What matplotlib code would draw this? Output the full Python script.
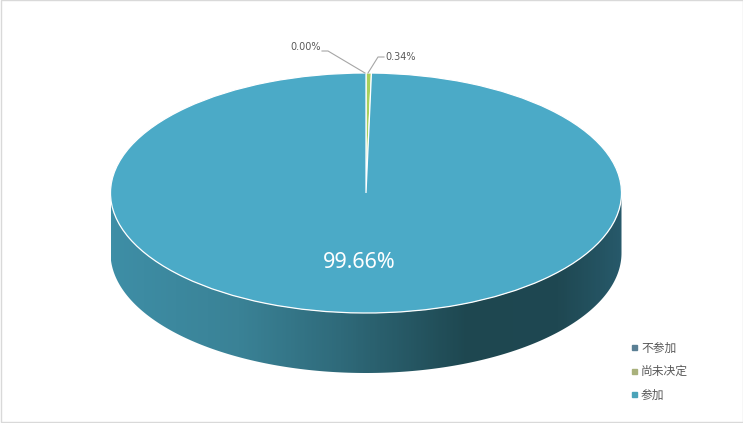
import numpy as np
import matplotlib.pyplot as plt
from matplotlib.patches import Polygon, Rectangle
from matplotlib.colors import LinearSegmentedColormap

plt.rcParams['font.family'] = ['Noto Sans CJK SC', 'DejaVu Sans']

# 数据
labels = ['不参加', '尚未决定', '参加']
values = [0.00, 0.34, 99.66]
colors = ['#5b8aa8', '#a8d05c', '#4baac7']
legend_colors = ['#5a7f94', '#a9b17c', '#4ba3b8']

W, H = 743, 423
fig = plt.figure(figsize=(W / 100, H / 100), dpi=100)

# 像素坐标的底层坐标轴
ax = fig.add_axes([0, 0, 1, 1])
ax.set_xlim(0, W)
ax.set_ylim(H, 0)
ax.axis('off')

# 椭圆参数 (像素)
cx, cy = 366, 193
a, b = 255.5, 120
depth = 60

# 侧面
t = np.linspace(np.pi, 2 * np.pi, 200)
top_x = cx + a * np.cos(t)
top_y = cy - b * np.sin(t)
side = np.vstack([np.column_stack([top_x, top_y]),
                  np.column_stack([top_x[::-1], top_y[::-1] + depth])])
side_poly = Polygon(side, closed=True, facecolor='none', edgecolor='none')
ax.add_patch(side_poly)
side_cmap = LinearSegmentedColormap.from_list(
    'side', [(0, '#3e8ea6'), (0.25, '#3a8296'), (0.45, '#2f6a7a'),
             (0.7, '#1e4750'), (0.88, '#1f4852'), (1, '#27596a')])
grad = np.linspace(0, 1, 300).reshape(1, -1)
im = ax.imshow(grad, cmap=side_cmap, extent=[cx - a, cx + a, cy + b + depth, cy - 5],
               aspect='auto', zorder=1)
im.set_clip_path(side_poly)

# 顶面 (饼图)
ax2 = fig.add_axes([(cx - a) / W, (H - cy - b) / H, 2 * a / W, 2 * b / H])
wedges, _ = ax2.pie(values, colors=colors, startangle=90, counterclock=False,
                    radius=1, wedgeprops=dict(edgecolor='white', linewidth=0.9))
ax2.set_aspect('auto')
ax2.set_xlim(-1, 1)
ax2.set_ylim(-1, 1)
ax2.axis('off')

# 文字层
ax3 = fig.add_axes([0, 0, 1, 1])
ax3.set_xlim(0, W)
ax3.set_ylim(H, 0)
ax3.axis('off')
ax3.patch.set_alpha(0)

# 标签
ax3.text(359, 262, '99.66%', color='white', fontsize=15.5, ha='center', va='center',
         family=['Noto Sans'])
ax3.plot([322, 328, 365], [51, 51, 73], color='#a6a6a6', lw=0.8)
ax3.text(321, 47, '0.00%', color='#595959', fontsize=7, ha='right', va='center',
         family=['DejaVu Sans'])
ax3.plot([384, 378, 368], [57, 57, 73], color='#a6a6a6', lw=0.8)
ax3.text(385, 57, '0.34%', color='#595959', fontsize=7, ha='left', va='center',
         family=['DejaVu Sans'])

# 图例
for i, (lab, c) in enumerate(zip(labels, legend_colors)):
    y = 348 + i * 23.5
    ax3.add_patch(Rectangle((632, y - 2.5), 5, 5, color=c))
    ax3.text(641, y, lab, color='#595959', fontsize=8.5, ha='left', va='center')

# 外框
ax3.add_patch(Rectangle((0.5, 0.5), W - 1, H - 1, fill=False, edgecolor='#d9d9d9', lw=1))

fig.savefig('out.png', dpi=100)
